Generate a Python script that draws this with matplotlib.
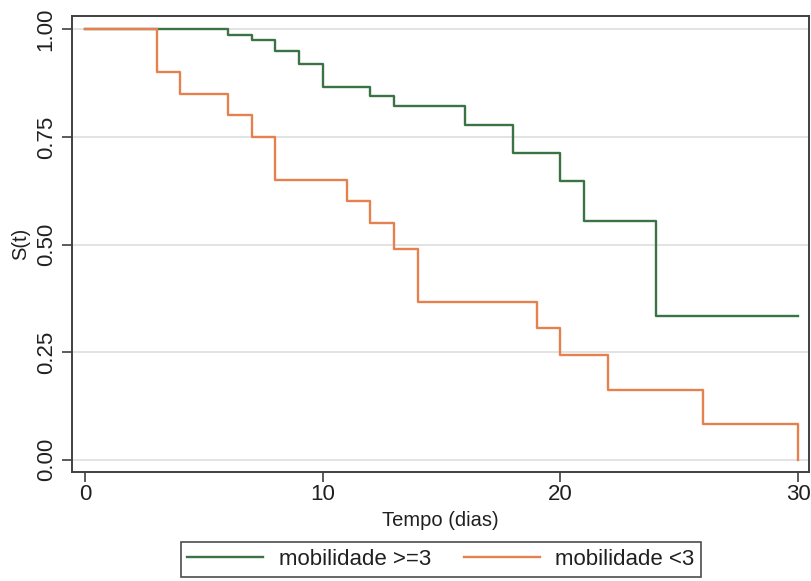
import matplotlib
matplotlib.use("Agg")
import matplotlib.pyplot as plt

plt.rcParams['font.family'] = ['Liberation Sans', 'DejaVu Sans']

# Kaplan-Meier estimates
green_t = [0, 6, 7, 8, 9, 10, 12, 13, 16, 18, 20, 21, 24, 30]
green_s = [1.0, 0.988, 0.976, 0.949, 0.919, 0.867, 0.846, 0.822, 0.778, 0.712, 0.648, 0.555, 0.333, 0.333]
orange_t = [0, 3, 4, 6, 7, 8, 11, 12, 13, 14, 19, 20, 22, 26, 30]
orange_s = [1.0, 0.90, 0.85, 0.80, 0.75, 0.65, 0.60, 0.55, 0.489, 0.367, 0.306, 0.244, 0.163, 0.082, 0.0]

labels = ["mobilidade >=3", "mobilidade <3"]
xticks = [0, 10, 20, 30]
yticks = [0.0, 0.25, 0.5, 0.75, 1.0]
ytick_labels = ["0.00", "0.25", "0.50", "0.75", "1.00"]

green = "#3a7444"
orange = "#e5814f"
frame = "#404040"

fig = plt.figure(figsize=(8.11, 5.81), dpi=100)
ax = fig.add_axes([72/811, 1 - 472/581, (809 - 72)/811, (472 - 16)/581])

ax.step(green_t, green_s, where="post", color=green, lw=1.7, label=labels[0])
ax.step(orange_t, orange_s, where="post", color=orange, lw=1.7, label=labels[1])

ax.set_xlim(-0.56, 30.46)
ax.set_ylim(-0.0286, 1.031)
ax.set_xticks(xticks)
ax.set_yticks(yticks)
ax.set_yticklabels(ytick_labels, rotation=90, va="center")
ax.grid(axis="y", color="#e3e3e3", lw=1.4)
ax.set_axisbelow(True)

for s in ax.spines.values():
    s.set_color(frame)
    s.set_linewidth(1.4)
ax.tick_params(direction="out", length=7, width=1.2, color=frame, labelsize=16,
               labelcolor="#202020")
ax.tick_params(axis="x", pad=2)
ax.tick_params(axis="y", pad=4)

ax.set_xlabel("Tempo (dias)", fontsize=14.5, color="#202020", labelpad=4)
ax.set_ylabel("S(t)", fontsize=14.5, color="#202020", labelpad=4)

leg = fig.legend(loc="center", bbox_to_anchor=(441/811, 1 - 559.5/581), ncol=2,
                 fontsize=16, frameon=True, fancybox=False, edgecolor="#202020",
                 handlelength=3.4, handletextpad=0.7, columnspacing=1.5,
                 borderpad=0.3)
leg.get_frame().set_linewidth(1.2)
for t in leg.get_texts():
    t.set_color("#202020")

fig.savefig("out.png", dpi=100, facecolor="white")
